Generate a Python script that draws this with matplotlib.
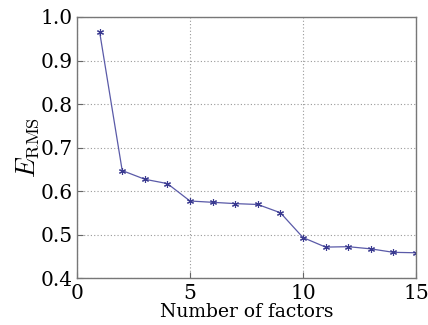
import matplotlib
matplotlib.use("Agg")
import matplotlib.pyplot as plt

n_factors = [1, 2, 3, 4, 5, 6, 7, 8, 9, 10, 11, 12, 13, 14, 15]
e_rms = [0.966, 0.647, 0.627, 0.617, 0.577, 0.574, 0.571, 0.569, 0.550,
         0.493, 0.471, 0.472, 0.467, 0.459, 0.458]

x_ticks = [0, 5, 10, 15]
y_ticks = [0.4, 0.5, 0.6, 0.7, 0.8, 0.9, 1.0]

plt.rcParams['font.family'] = 'DejaVu Serif'
plt.rcParams['mathtext.fontset'] = 'cm'

fig = plt.figure(figsize=(4.28, 3.25), dpi=100)
ax = fig.add_axes([77 / 428, 1 - 278 / 325, (416 - 77) / 428, (278 - 17) / 325])

ax.plot(n_factors, e_rms, '-', color='#5a5aa8', linewidth=0.9,
        marker=(6, 2, 0), markersize=5, markeredgewidth=0.8,
        markeredgecolor='#3a3a90')

ax.set_xlim(0, 15)
ax.set_ylim(0.4, 1.0)
ax.set_xticks(x_ticks)
ax.set_yticks(y_ticks)
ax.set_yticklabels([f"{v:.1f}" for v in y_ticks])
ax.grid(True, linestyle=(0, (1, 2)), color='#999999', linewidth=0.8)
ax.tick_params(direction='in', length=4, labelsize=14.5, color='#666666')
ax.tick_params(axis='x', pad=4)
ax.tick_params(axis='y', pad=3)
for s in ax.spines.values():
    s.set_color('#777777')
    s.set_linewidth(1.0)

ax.set_xlabel('Number of factors', fontsize=13.5)
ax.xaxis.set_label_coords(0.5, -0.095)
ax.set_ylabel(r'$E_{\mathrm{RMS}}$', fontsize=19, labelpad=0)

fig.savefig('out.png', dpi=100)
